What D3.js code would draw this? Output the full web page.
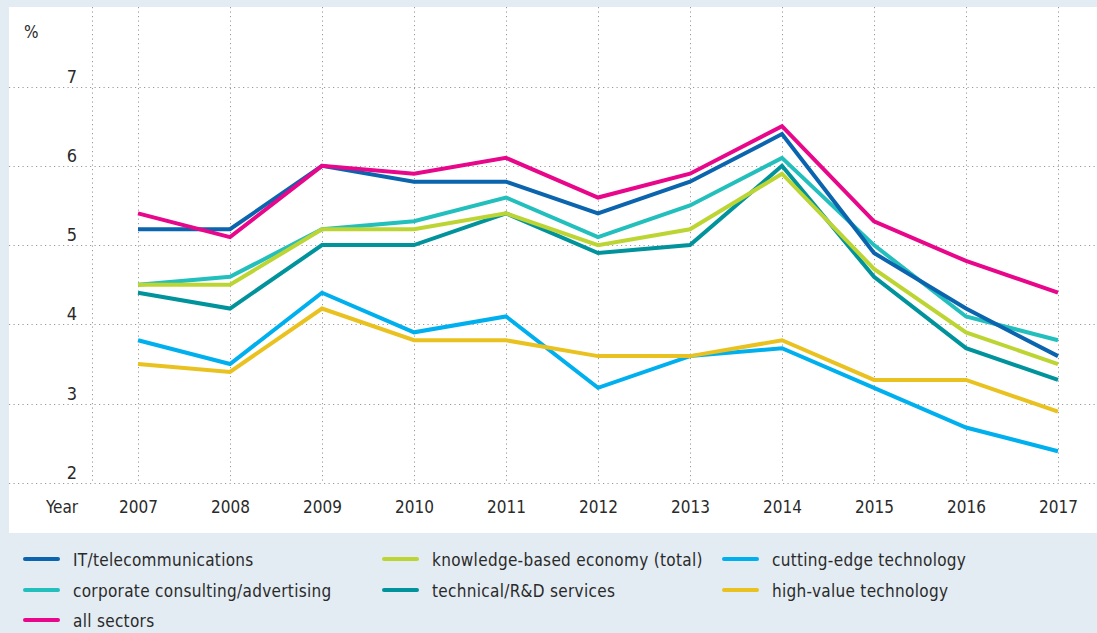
<!DOCTYPE html>
<html>
<head>
<meta charset="utf-8">
<script src="https://cdn.jsdelivr.net/npm/d3@7/dist/d3.min.js"></script>
<style>
  html, body { margin: 0; padding: 0; background: #e3ecf2; }
  svg { display: block; }
  text { font-family: "DejaVu Sans Condensed", "DejaVu Sans", sans-serif; font-stretch: condensed; fill: #2a2a2a; }
</style>
</head>
<body>
<svg id="chart" width="1097" height="633"></svg>
<script>
const years = [2007, 2008, 2009, 2010, 2011, 2012, 2013, 2014, 2015, 2016, 2017];
const yTicks = [2, 3, 4, 5, 6, 7];

const seriesNames = [
  "IT/telecommunications",
  "knowledge-based economy (total)",
  "cutting-edge technology",
  "corporate consulting/advertising",
  "technical/R&D services",
  "high-value technology",
  "all sectors"
];
const seriesColors = ["#0b64ae", "#bdd532", "#00b0ee", "#22bfbd", "#00939c", "#e9c21f", "#e8068a"];

const itTelecom    = [5.2, 5.2, 6.0, 5.8, 5.8, 5.4, 5.8, 6.4, 4.9, 4.2, 3.6];
const knowledge    = [4.5, 4.5, 5.2, 5.2, 5.4, 5.0, 5.2, 5.9, 4.7, 3.9, 3.5];
const cuttingEdge  = [3.8, 3.5, 4.4, 3.9, 4.1, 3.2, 3.6, 3.7, 3.2, 2.7, 2.4];
const consulting   = [4.5, 4.6, 5.2, 5.3, 5.6, 5.1, 5.5, 6.1, 5.0, 4.1, 3.8];
const technical    = [4.4, 4.2, 5.0, 5.0, 5.4, 4.9, 5.0, 6.0, 4.6, 3.7, 3.3];
const highValue    = [3.5, 3.4, 4.2, 3.8, 3.8, 3.6, 3.6, 3.8, 3.3, 3.3, 2.9];
const allSectors   = [5.4, 5.1, 6.0, 5.9, 6.1, 5.6, 5.9, 6.5, 5.3, 4.8, 4.4];

const seriesValues = [itTelecom, knowledge, cuttingEdge, consulting, technical, highValue, allSectors];
// drawing order (bottom to top)
const drawOrder = [2, 5, 4, 3, 1, 0, 6];

const svg = d3.select("#chart");

// white panel
svg.append("rect").attr("x", 9).attr("y", 7).attr("width", 1088).attr("height", 526).attr("fill", "#ffffff");

const x = d3.scalePoint().domain(years).range([138, 1058]);
const y = d3.scaleLinear().domain([2, 7]).range([483, 86.5]);

const grid = svg.append("g").attr("stroke", "#9a9a9a").attr("stroke-width", 1).attr("stroke-dasharray", "1.2,3.3");

// horizontal grid lines
grid.selectAll("line.h").data(yTicks).join("line")
  .attr("class", "h")
  .attr("x1", 9).attr("x2", 1097)
  .attr("y1", d => Math.round(y(d)) + 0.5).attr("y2", d => Math.round(y(d)) + 0.5);

// vertical grid lines (axis + years)
grid.append("line").attr("x1", 92.5).attr("x2", 92.5).attr("y1", 7).attr("y2", 483);
grid.selectAll("line.v").data(years).join("line")
  .attr("class", "v")
  .attr("x1", d => Math.round(x(d)) + 0.5).attr("x2", d => Math.round(x(d)) + 0.5)
  .attr("y1", 7).attr("y2", 483);

const fontFam = '"DejaVu Sans Condensed", "DejaVu Sans", sans-serif';

// y tick labels
const yAxis = d3.axisLeft(y).tickValues(yTicks).tickSize(0).tickPadding(0).tickFormat(d3.format("d"));
const yg = svg.append("g").attr("transform", "translate(77,0)").call(yAxis);
yg.select(".domain").remove();
yg.selectAll("text")
  .attr("dy", null).attr("y", -4.5).attr("x", 0)
  .attr("text-anchor", "end")
  .style("font-size", "18px").style("fill", "#2a2a2a")
  .style("font-family", fontFam).style("font-stretch", "condensed");

svg.append("text").attr("x", 24).attr("y", 38).style("font-size", "17px").text("%");

// x axis labels
const xAxis = d3.axisBottom(x).tickSize(0).tickPadding(0).tickFormat(d3.format("d"));
const xg = svg.append("g").attr("transform", "translate(0,513)").call(xAxis);
xg.select(".domain").remove();
xg.selectAll("text")
  .attr("dy", null).attr("y", 0)
  .style("font-size", "17px").style("fill", "#2a2a2a")
  .style("font-family", fontFam).style("font-stretch", "condensed");

svg.append("text").attr("x", 62).attr("y", 513).attr("text-anchor", "middle")
  .style("font-size", "17px").text("Year");

// lines
const line = d3.line().x((d, i) => x(years[i])).y(d => y(d));
svg.append("g").selectAll("path").data(drawOrder).join("path")
  .attr("d", k => line(seriesValues[k]))
  .attr("fill", "none")
  .attr("stroke", k => seriesColors[k])
  .attr("stroke-width", 4)
  .attr("stroke-linejoin", "miter")
  .attr("stroke-linecap", "butt");

// legend
const colX = [23, 382, 722];
const rowY = [559, 590, 620];
const lg = svg.append("g");
seriesNames.forEach((name, i) => {
  const cx = colX[i % 3], cy = rowY[Math.floor(i / 3)];
  lg.append("line").attr("x1", cx + 2).attr("x2", cx + 35).attr("y1", cy).attr("y2", cy)
    .attr("stroke", seriesColors[i]).attr("stroke-width", 4).attr("stroke-linecap", "round");
  lg.append("text").attr("x", cx + 50).attr("y", cy + 7)
    .style("font-size", "17px").style("letter-spacing", "0.3px").text(name);
});
</script>
</body>
</html>
